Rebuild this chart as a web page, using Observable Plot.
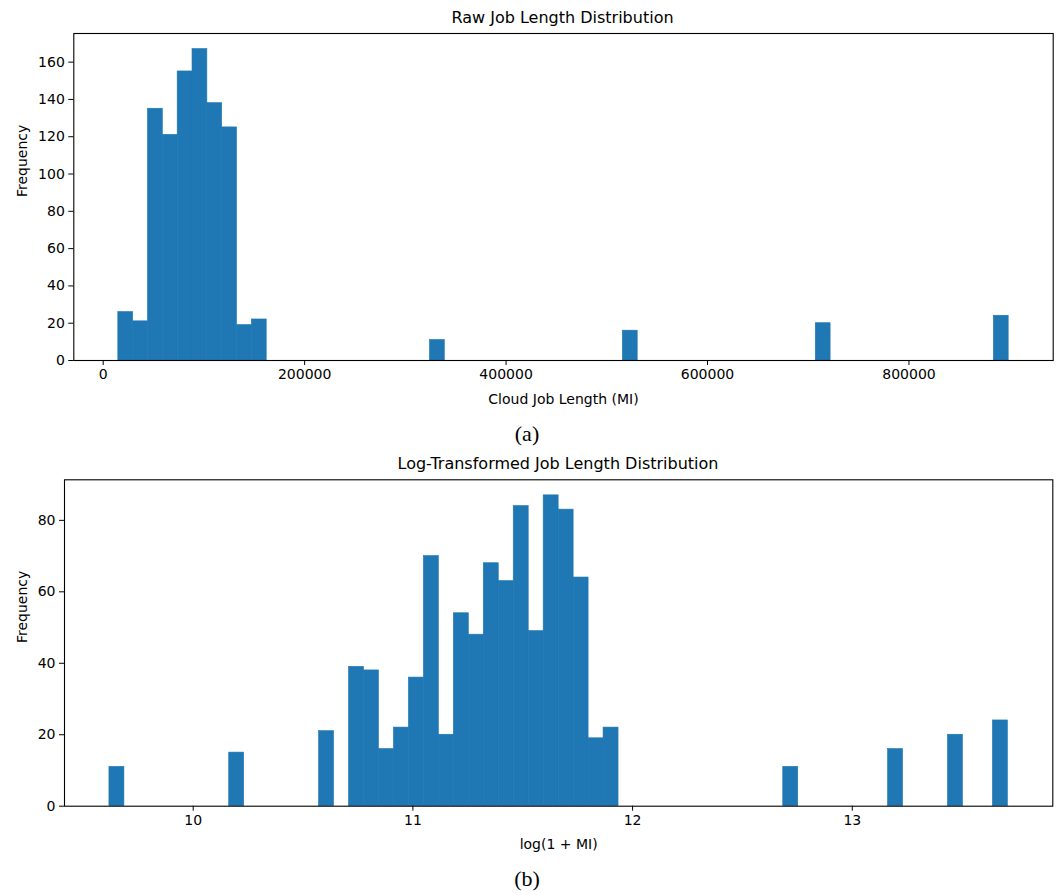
<!DOCTYPE html>
<html><head><meta charset="utf-8">
<script src="https://cdn.jsdelivr.net/npm/d3@7"></script>
<script src="https://cdn.jsdelivr.net/npm/@observablehq/plot@0.6"></script>
<style>
body{margin:0;background:#fff;}
#wrap{position:relative;width:1058px;height:894px;font-family:"DejaVu Sans",sans-serif;color:#000;overflow:hidden;}
.t{position:absolute;white-space:nowrap;transform:translate(-50%,-50%);line-height:1;}
.title{font-size:16px;font-family:"DejaVu Sans",sans-serif;}
.cap{font-family:"Liberation Serif",serif;font-size:22px;}
.panel{position:absolute;left:0;}
</style></head><body><div id="wrap"></div>
<script>
// Panel (a): raw job length histogram, 60 equal bins between rawMin and rawMax (non-empty bins listed)
const rawMin = 15030, rawMax = 899000, rawBins = 60;
const rawBinIndex = [0, 1, 2, 3, 4, 5, 6, 7, 8, 9, 21, 34, 47, 59];
const rawCounts   = [26, 21, 135, 121, 155, 167, 138, 125, 19, 22, 11, 16, 20, 24];
const rawXTicks = [0, 200000, 400000, 600000, 800000];
const rawYTicks = [0, 20, 40, 60, 80, 100, 120, 140, 160];

// Panel (b): log(1 + MI) histogram, 60 equal bins between logMin and logMax
const logMin = 9.6187, logMax = 13.7082, logBins = 60;
const logBinIndex = [0, 8, 14, 16, 17, 18, 19, 20, 21, 22, 23, 24, 25, 26, 27, 28, 29, 30, 31, 32, 33, 45, 52, 56, 59];
const logCounts   = [11, 15, 21, 39, 38, 16, 22, 36, 70, 20, 54, 48, 68, 63, 84, 49, 87, 83, 64, 19, 22, 11, 16, 20, 24];
const logXTicks = [10, 11, 12, 13];
const logYTicks = [0, 20, 40, 60, 80];

const titles = ["Raw Job Length Distribution", "Log-Transformed Job Length Distribution"];
const xLabels = ["Cloud Job Length (MI)", "log(1 + MI)"];
const yLabel = "Frequency";
const captions = ["(a)", "(b)"];

const BLUE = "#1f77b4";

function rows(lo, hi, n, idx, counts) {
  const w = (hi - lo) / n;
  return idx.map((i, k) => ({x1: lo + i * w, x2: lo + (i + 1) * w, y1: 0, y2: counts[k]}));
}

function hist({lo, hi, n, idx, counts, xTicks, yTicks, xLabel, mLeft, mRight, mTop, mBottom, height, ylDx, xlDy}) {
  const span = hi - lo;
  return Plot.plot({
    width: 1058,
    height,
    marginLeft: mLeft, marginRight: mRight, marginTop: mTop, marginBottom: mBottom,
    style: {fontFamily: "DejaVu Sans, sans-serif", fontSize: "14px", color: "#000", background: "#fff"},
    x: {domain: [lo - 0.05 * span, hi + 0.05 * span]},
    y: {domain: [0, d3.max(counts) * 1.05]},
    marks: [
      Plot.rect(rows(lo, hi, n, idx, counts), {x1: "x1", x2: "x2", y1: "y1", y2: "y2", fill: BLUE, stroke: BLUE, strokeWidth: 0.6}),
      Plot.frame({stroke: "#000", strokeWidth: 1.1}),
      Plot.axisX({ticks: xTicks, tickSize: 5, tickPadding: 4, label: null, tickFormat: d => String(d), stroke: "#000"}),
      Plot.axisY({ticks: yTicks, tickSize: 5, tickPadding: 4, label: null, tickFormat: d => String(d), stroke: "#000"}),
      Plot.text([xLabel], {frameAnchor: "bottom", dy: xlDy, lineAnchor: "middle", fill: "#000", fontSize: 14}),
      Plot.text([yLabel], {frameAnchor: "left", dx: ylDx, rotate: -90, lineAnchor: "middle", fill: "#000", fontSize: 14})
    ]
  });
}

const wrap = document.getElementById("wrap");

const pa = hist({lo: rawMin, hi: rawMax, n: rawBins, idx: rawBinIndex, counts: rawCounts,
  xTicks: rawXTicks, yTicks: rawYTicks, xLabel: xLabels[0],
  mLeft: 73.3, mRight: 5.3, mTop: 33, mBottom: 50, height: 410, ylDx: -51.5, xlDy: 39});
pa.classList.add("panel"); pa.style.top = "0px";
wrap.appendChild(pa);

const pb = hist({lo: logMin, hi: logMax, n: logBins, idx: logBinIndex, counts: logCounts,
  xTicks: logXTicks, yTicks: logYTicks, xLabel: xLabels[1],
  mLeft: 64, mRight: 5.7, mTop: 33.3, mBottom: 50.3, height: 410, ylDx: -42.3, xlDy: 38});
pb.classList.add("panel"); pb.style.top = "446px";
wrap.appendChild(pb);

function label(text, cls, x, y) {
  const d = document.createElement("div");
  d.className = "t " + cls;
  d.textContent = text;
  d.style.left = x + "px";
  d.style.top = y + "px";
  wrap.appendChild(d);
}
label(titles[0], "title", 562.5, 18.3);
label(titles[1], "title", 558, 464);
label(captions[0], "cap", 527, 434);
label(captions[1], "cap", 527, 879);
</script>
</body></html>
